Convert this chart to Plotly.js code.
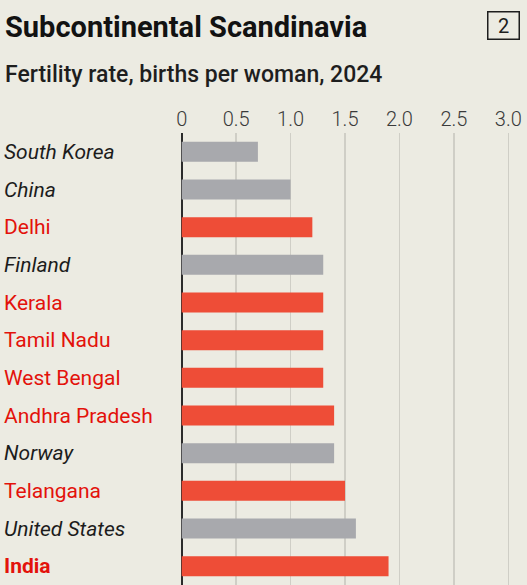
<!DOCTYPE html>
<html>
<head>
<meta charset="utf-8">
<script src="https://cdn.plot.ly/plotly-3.0.1.min.js"></script>
<style>
  html, body { margin: 0; padding: 0; background: #ECEBE2; }
  #chart { width: 527px; height: 585px; }
</style>
</head>
<body>
<div id="chart"></div>
<script>
// Fertility rate, births per woman, 2024
const places = ["South Korea", "China", "Delhi", "Finland", "Kerala", "Tamil Nadu",
                "West Bengal", "Andhra Pradesh", "Norway", "Telangana", "United States", "India"];
const fertility = [0.7, 1.0, 1.2, 1.3, 1.3, 1.3, 1.3, 1.4, 1.4, 1.5, 1.6, 1.9];
// "country" = other countries, "state" = Indian states, "india" = India as a whole
const kind = ["country", "country", "state", "country", "state", "state",
              "state", "state", "country", "state", "country", "india"];
const tickValues = [0, 0.5, 1.0, 1.5, 2.0, 2.5, 3.0];
const tickLabels = ["0", "0.5", "1.0", "1.5", "2.0", "2.5", "3.0"];

const W = 527, H = 585;
const M = { l: 178, r: 0, t: 133, b: 0 };
const plotW = W - M.l - M.r, plotH = H - M.t - M.b;
const px2x = px => (px - M.l) / plotW;
const py2y = py => (H - M.b - py) / plotH;

const BG = "#ECEBE2";
const RED_BAR = "#EE4D37";
const GREY_BAR = "#A8A9AD";
const RED_TEXT = "#E3120B";
const DARK = "#1C1C1C";

const barColours = kind.map(k => k === "country" ? GREY_BAR : RED_BAR);

const trace = {
  type: "bar",
  orientation: "h",
  x: fertility,
  y: places,
  marker: { color: barColours, line: { width: 0 } },
  hoverinfo: "skip"
};

const rowLabels = places.map((p, i) => {
  const k = kind[i];
  return {
    xref: "paper", yref: "y",
    x: px2x(2), y: p,
    xanchor: "left", yanchor: "middle",
    showarrow: false,
    text: k === "india" ? "<b>" + p + "</b>" : p,
    font: {
      family: "Roboto, sans-serif",
      size: 21,
      color: k === "country" ? DARK : RED_TEXT,
      style: k === "country" ? "italic" : "normal"
    }
  };
});

const layout = {
  width: W, height: H,
  margin: M,
  paper_bgcolor: BG,
  plot_bgcolor: BG,
  showlegend: false,
  bargap: 0.47,
  xaxis: {
    side: "top",
    range: [-3.7 / 108.87, (W - M.l - M.r - 3.7) / 108.87],
    tickvals: tickValues,
    ticktext: tickLabels,
    ticks: "",
    ticklabelstandoff: 2,
    showgrid: true,
    gridcolor: "#CFCEC6",
    gridwidth: 1.5,
    zeroline: true,
    zerolinecolor: "#2B2B2B",
    zerolinewidth: 2,
    showline: false,
    tickfont: { family: "Roboto, sans-serif", size: 20, color: "#3A3A3A", weight: 300 },
    fixedrange: true
  },
  yaxis: {
    autorange: "reversed",
    showticklabels: false,
    showgrid: false,
    zeroline: false,
    ticks: "",
    fixedrange: true
  },
  annotations: [
    {
      xref: "paper", yref: "paper",
      x: px2x(3), y: py2y(27),
      xanchor: "left", yanchor: "middle",
      showarrow: false,
      text: "<b>Subcontinental Scandinavia</b>",
      font: { family: "Roboto, sans-serif", size: 29, color: "#121212" }
    },
    {
      xref: "paper", yref: "paper",
      x: px2x(3), y: py2y(75),
      xanchor: "left", yanchor: "middle",
      showarrow: false,
      text: "Fertility rate, births per woman, 2024",
      font: { family: "Roboto, sans-serif", size: 23, color: "#1E1E1E", weight: 500 }
    },
    {
      xref: "paper", yref: "paper",
      x: px2x(503), y: py2y(26),
      xanchor: "center", yanchor: "middle",
      showarrow: false,
      text: "2",
      width: 30, height: 26,
      bordercolor: "#1E1E1E",
      borderwidth: 1.5,
      borderpad: 0,
      font: { family: "Roboto, sans-serif", size: 20, color: "#1E1E1E" }
    },
    ...rowLabels
  ]
};

Plotly.newPlot("chart", [trace], layout, { displayModeBar: false, staticPlot: true });
</script>
</body>
</html>
